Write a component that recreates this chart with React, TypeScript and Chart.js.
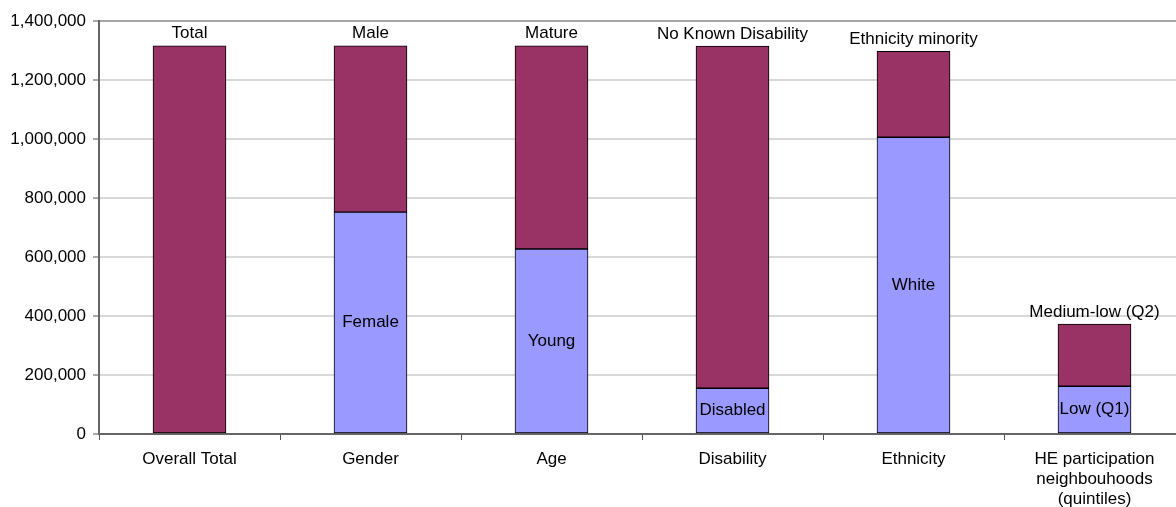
import React, { useEffect, useRef } from "react";
import { Chart, registerables } from "chart.js";

Chart.register(...registerables);

const categories: (string | string[])[] = [
  "Overall Total",
  "Gender",
  "Age",
  "Disability",
  "Ethnicity",
  ["HE participation", "neighbouhoods", "(quintiles)"],
];

const bottomValues: (number | null)[] = [null, 752000, 627000, 155000, 1006000, 162000];
const topValues: number[] = [1316000, 564000, 689000, 1160000, 291000, 211000];

const bottomLabels: string[] = ["", "Female", "Young", "Disabled", "White", "Low (Q1)"];
const topLabels: string[] = [
  "Total",
  "Male",
  "Mature",
  "No Known Disability",
  "Ethnicity minority",
  "Medium-low (Q2)",
];

const FONT = "'Liberation Sans', Arial, sans-serif";

const labelPlugin = {
  id: "segmentLabels",
  afterDatasetsDraw(chart: any) {
    const ctx = chart.ctx;
    ctx.save();
    ctx.font = `17px ${FONT}`;
    ctx.fillStyle = "#000";
    ctx.textAlign = "center";
    ctx.textBaseline = "middle";
    const m0 = chart.getDatasetMeta(0);
    const m1 = chart.getDatasetMeta(1);
    m0.data.forEach((bar: any, i: number) => {
      const txt = bottomLabels[i];
      if (!txt || bottomValues[i] == null) return;
      const { x, y, base } = bar.getProps(["x", "y", "base"], true);
      ctx.fillText(txt, x, (y + base) / 2);
    });
    m1.data.forEach((bar: any, i: number) => {
      const txt = topLabels[i];
      if (!txt) return;
      const { x, y } = bar.getProps(["x", "y"], true);
      ctx.fillText(txt, x, y - 12);
    });
    ctx.restore();
  },
};

export default function App() {
  const ref = useRef<HTMLCanvasElement | null>(null);

  useEffect(() => {
    if (!ref.current) return;
    const chart = new Chart(ref.current, {
      type: "bar",
      data: {
        labels: categories as any,
        datasets: [
          {
            label: "Lower group",
            data: bottomValues as any,
            backgroundColor: "#9999FF",
            borderColor: "#000000",
            borderWidth: 1,
            borderSkipped: false,
            barThickness: 73,
          },
          {
            label: "Upper group",
            data: topValues,
            backgroundColor: "#993366",
            borderColor: "#000000",
            borderWidth: 1,
            borderSkipped: false,
            barThickness: 73,
          },
        ],
      },
      options: {
        responsive: false,
        animation: false,
        devicePixelRatio: 1,
        layout: { padding: { left: 0, right: 15, top: 21, bottom: 0 } },
        plugins: {
          legend: { display: false },
          tooltip: { enabled: false },
          title: { display: false },
        },
        scales: {
          x: {
            stacked: true,
            offset: true,
            grid: {
              offset: true,
              drawOnChartArea: false,
              drawTicks: true,
              tickLength: 6,
              tickColor: "#555555",
              tickWidth: 1,
            },
            border: { display: true, color: "#666666", width: 2 },
            ticks: {
              color: "#000000",
              font: { family: FONT, size: 17, lineHeight: 20 / 17 },
              padding: 9,
              maxRotation: 0,
              autoSkip: false,
            },
            afterFit(scale: any) {
              scale.height = 73;
            },
          },
          y: {
            stacked: true,
            min: 0,
            max: 1400000,
            grid: {
              color: (c: any) => (c.tick && c.tick.value === 1400000 ? "#A6A6A6" : "#D9D9D9"),
              lineWidth: 2,
              drawTicks: true,
              tickLength: 6,
              tickColor: "#555555",
              tickWidth: 1,
            },
            border: { display: true, color: "#666666", width: 2 },
            ticks: {
              stepSize: 200000,
              color: "#000000",
              font: { family: FONT, size: 17 },
              padding: 7,
              callback: (v: any) => Number(v).toLocaleString("en-US"),
            },
            afterFit(scale: any) {
              scale.width = 99;
            },
          },
        },
      },
      plugins: [labelPlugin],
    });
    return () => chart.destroy();
  }, []);

  return (
    <div
      style={{
        position: "fixed",
        left: 0,
        top: 0,
        width: 1176,
        height: 507,
        overflow: "hidden",
        background: "#ffffff",
      }}
    >
      <canvas ref={ref} width={1200} height={507} style={{ display: "block" }} />
    </div>
  );
}
